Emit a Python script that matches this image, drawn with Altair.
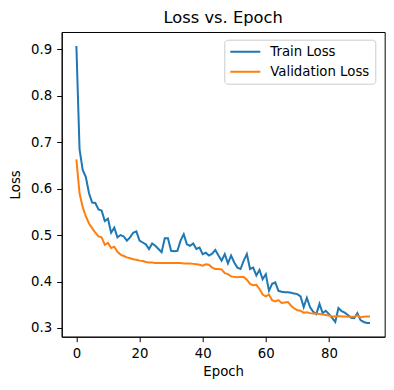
import altair as alt
import pandas as pd

epochs = list(range(94))

train_loss = [
    0.907, 0.685, 0.640, 0.625, 0.590, 0.570, 0.569, 0.555, 0.553, 0.530,
    0.535, 0.505, 0.516, 0.495, 0.500, 0.497, 0.488, 0.495, 0.505, 0.508,
    0.488, 0.484, 0.480, 0.470, 0.482, 0.477, 0.470, 0.463, 0.493, 0.493,
    0.466, 0.465, 0.466, 0.488, 0.502, 0.480, 0.477, 0.482, 0.470, 0.473,
    0.459, 0.462, 0.456, 0.460, 0.468, 0.456, 0.445, 0.459, 0.439, 0.456,
    0.441, 0.430, 0.427, 0.445, 0.459, 0.427, 0.430, 0.413, 0.425, 0.405,
    0.416, 0.380, 0.395, 0.398, 0.380, 0.378, 0.377, 0.377, 0.376, 0.374,
    0.373, 0.368, 0.345, 0.365, 0.345, 0.335, 0.330, 0.352, 0.332, 0.337,
    0.330, 0.322, 0.313, 0.343, 0.336, 0.333, 0.328, 0.322, 0.321, 0.332,
    0.317, 0.313, 0.311, 0.311,
]

val_loss = [
    0.663, 0.590, 0.560, 0.540, 0.525, 0.515, 0.505, 0.497, 0.495, 0.479,
    0.483, 0.472, 0.475, 0.464, 0.458, 0.455, 0.452, 0.450, 0.448, 0.447,
    0.445, 0.444, 0.442, 0.441, 0.441, 0.440, 0.440, 0.440, 0.440, 0.440,
    0.440, 0.440, 0.440, 0.440, 0.439, 0.439, 0.439, 0.438, 0.437, 0.436,
    0.434, 0.437, 0.436, 0.430, 0.427, 0.427, 0.426, 0.418, 0.416, 0.411,
    0.410, 0.409, 0.410, 0.410, 0.404, 0.395, 0.392, 0.393, 0.384, 0.372,
    0.368, 0.372, 0.360, 0.357, 0.360, 0.354, 0.355, 0.356, 0.348, 0.342,
    0.338, 0.337, 0.333, 0.334, 0.332, 0.331, 0.331, 0.330, 0.329, 0.328,
    0.327, 0.325, 0.325, 0.326, 0.325, 0.325, 0.324, 0.324, 0.324, 0.327,
    0.323, 0.324, 0.325, 0.325,
]

series_names = ["Train Loss", "Validation Loss"]
series_colors = ["#1f77b4", "#ff7f0e"]
x_ticks = [0, 20, 40, 60, 80]
y_ticks = [0.3, 0.4, 0.5, 0.6, 0.7, 0.8, 0.9]

df = pd.concat([
    pd.DataFrame({"Epoch": epochs, "Loss": train_loss, "Series": series_names[0], "order": 0}),
    pd.DataFrame({"Epoch": epochs, "Loss": val_loss, "Series": series_names[1], "order": 1}),
])

FONT = "DejaVu Sans"

chart = alt.Chart(df).mark_line(strokeWidth=2).encode(
    x=alt.X("Epoch:Q",
            scale=alt.Scale(domain=[-4.65, 97.65], nice=False, zero=False),
            axis=alt.Axis(values=x_ticks, format="d", title="Epoch", grid=False,
                          labelPadding=5, titlePadding=5)),
    y=alt.Y("Loss:Q",
            scale=alt.Scale(domain=[0.2813, 0.937], nice=False, zero=False),
            axis=alt.Axis(values=y_ticks, format=".1f", title="Loss", grid=False,
                          labelPadding=5, titlePadding=8)),
    color=alt.Color("Series:N",
                    scale=alt.Scale(domain=series_names, range=series_colors),
                    legend=alt.Legend(title=None, orient="none", legendX=162.6, legendY=7.7,
                                      symbolType="stroke", symbolSize=900, symbolStrokeWidth=2,
                                      clipHeight=14, rowPadding=6, labelOffset=9,
                                      labelFontSize=13.3, labelFont=FONT, labelColor="black",
                                      fillColor="white", strokeColor="#cccccc",
                                      cornerRadius=3, padding=5)),
    order=alt.Order("order:Q"),
).properties(
    width=323,
    height=304.7,
    title=alt.TitleParams("Loss vs. Epoch", fontSize=16.3, font=FONT, fontWeight="normal",
                          color="black", anchor="middle", offset=6),
    autosize=alt.AutoSizeParams(type="none"),
    padding={"left": 53.7, "top": 24, "right": 1, "bottom": 45},
).configure_view(
    stroke="black", strokeWidth=1
).configure_axis(
    domainColor="black", tickColor="black", tickSize=5, tickWidth=1,
    labelFont=FONT, labelFontSize=13.3, labelColor="black",
    titleFont=FONT, titleFontSize=13.3, titleFontWeight="normal", titleColor="black",
)

chart.save("out.html", embed_options={"renderer": "svg", "actions": False})
